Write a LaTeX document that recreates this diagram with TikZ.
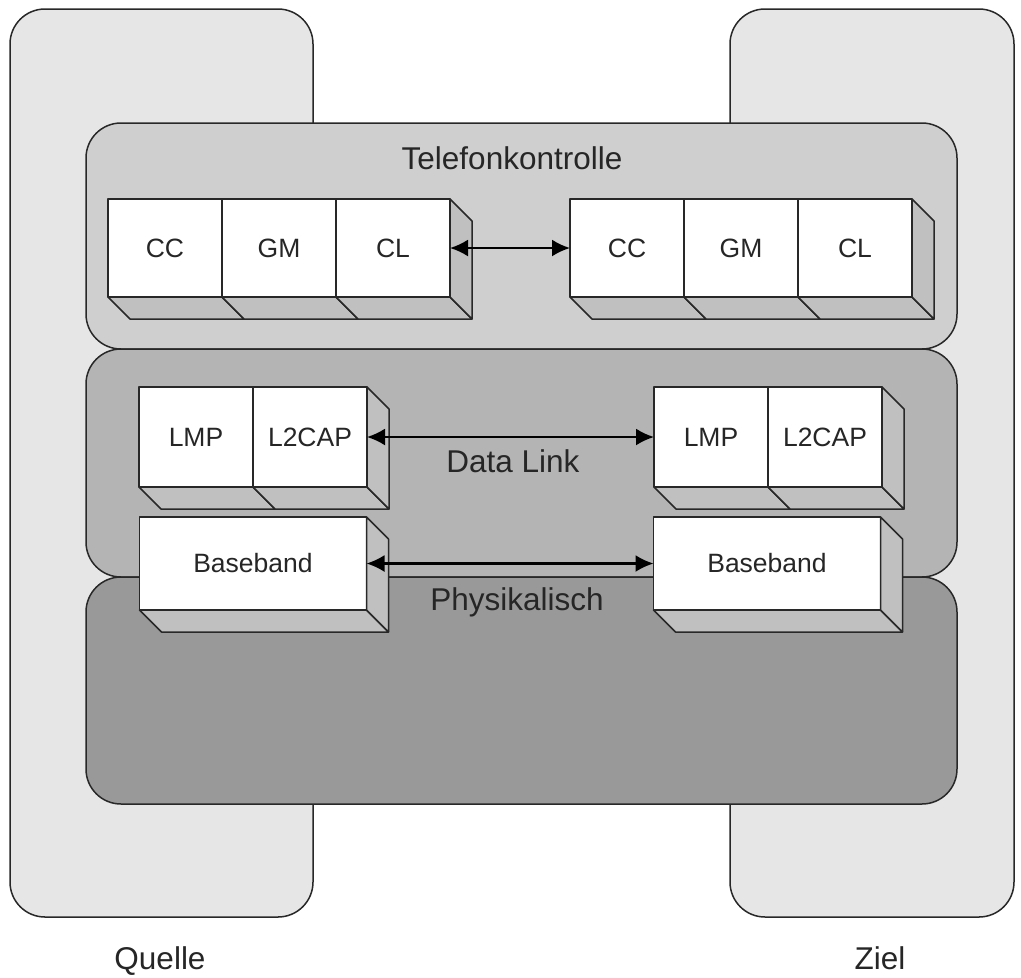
\documentclass[tikz,border=0pt]{standalone}
\usepackage{fontspec}
\setmainfont{Liberation Sans}
\usepackage{tikz}
\usetikzlibrary{arrows.meta,positioning}
\definecolor{saeule}{RGB}{230,230,230}
\definecolor{telefon}{RGB}{207,207,207}
\definecolor{datalink}{RGB}{180,180,180}
\definecolor{physik}{RGB}{153,153,153}
\definecolor{seite}{RGB}{192,192,192}
\definecolor{linie}{RGB}{40,40,40}
\newcommand{\tiefe}{22}

\begin{document}
\begin{tikzpicture}[x=1pt, y=-1pt, line width=1.5pt, line join=round,
    saeulenbox/.style={draw=linie, fill=saeule, rounded corners=35pt},
    schicht/.style={draw=linie, rounded corners=35pt},
    block/.style={draw=linie, fill=white, inner sep=0pt, outer sep=0pt,
        minimum width=114pt, minimum height=98pt, text=black!85,
        font=\fontsize{26.5}{30}\selectfont},
    breitblock/.style={block, minimum width=227pt, minimum height=93pt},
    flaeche/.style={draw=linie, fill=seite},
    titel/.style={anchor=base, text=black!85, font=\fontsize{31.5}{36}\selectfont},
    verbindung/.style={draw=black, line width=2.2pt,
        {Latex[length=18pt,width=17pt]}-{Latex[length=18pt,width=17pt]}}]
    \useasboundingbox (0,0) rectangle (1021,978);

    % Quelle und Ziel.
    \draw[saeulenbox] (10,9) rectangle (313,917);
    \draw[saeulenbox] (730,9) rectangle (1014,917);

    % Schichten.
    \draw[schicht, fill=telefon]  (86,123) rectangle (957,349);
    \draw[schicht, fill=datalink] (86,349) rectangle (957,577);
    \draw[schicht, fill=physik]   (86,577) rectangle (957,804);

    % Bloecke.
    \node[block] (cc1) at (165,248) {CC};
    \node[block, right=0pt of cc1] (gm1) {GM};
    \node[block, right=0pt of gm1] (cl1) {CL};

    \node[block] (cc2) at (627,248) {CC};
    \node[block, right=0pt of cc2] (gm2) {GM};
    \node[block, right=0pt of gm2] (cl2) {CL};

    \node[block, minimum height=100pt] (lmp1) at (196,437) {LMP};
    \node[block, minimum height=100pt, right=0pt of lmp1] (l2cap1) {L2CAP};
    \node[block, minimum height=100pt] (lmp2) at (711,437) {LMP};
    \node[block, minimum height=100pt, right=0pt of lmp2] (l2cap2) {L2CAP};

    \node[breitblock] (bb1) at (253,563.5) {Baseband};
    \node[breitblock] (bb2) at (767,563.5) {Baseband};

    % Tiefe.
    \foreach \n in {cc1,gm1,cl1,cc2,gm2,cl2,lmp1,l2cap1,lmp2,l2cap2,bb1,bb2}
    {
        \filldraw[flaeche] (\n.south west) -- ++(\tiefe,\tiefe)
            -- ([shift={(\tiefe,\tiefe)}]\n.south east) -- (\n.south east) -- cycle;
    }
    \foreach \n in {cl1,cl2,l2cap1,l2cap2,bb1,bb2}
    {
        \filldraw[flaeche] (\n.north east) -- ++(\tiefe,\tiefe)
            -- ([shift={(\tiefe,\tiefe)}]\n.south east) -- (\n.south east) -- cycle;
    }

    % Pfeile.
    \draw[verbindung] (cl1.east) -- (cc2.west);
    \draw[verbindung] (l2cap1.east) -- (lmp2.west);
    \draw[verbindung] (bb1.east) -- (bb2.west);

    % Beschriftung.
    \node[titel] (telefonlabel) at (512,169) {Telefonkontrolle};
    \node[titel] (datalabel) at (513,472) {Data Link};
    \node[titel] (physiklabel) at (517,610) {Physikalisch};
    \node[titel] (quellelabel) at (160,969) {Quelle};
    \node[titel] (ziellabel) at (880,969) {Ziel};
\end{tikzpicture}
\end{document}
